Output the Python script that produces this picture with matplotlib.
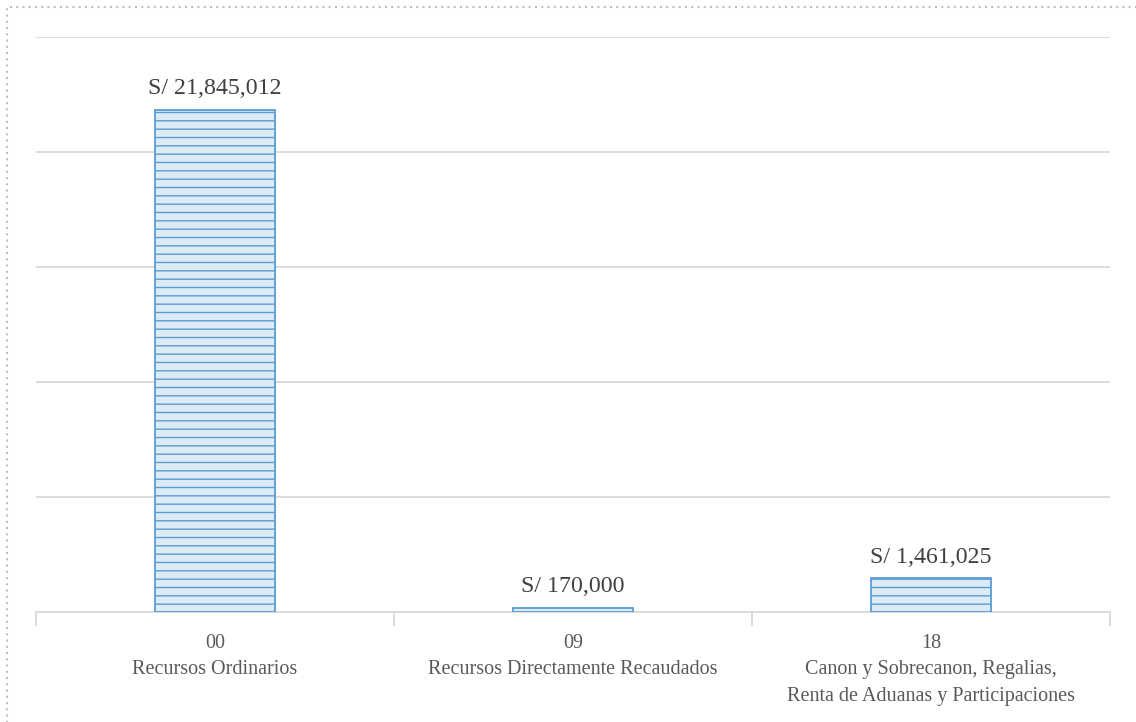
import numpy as np
import matplotlib
matplotlib.use("Agg")
import matplotlib.pyplot as plt
from matplotlib.patches import Rectangle

# presupuesto por fuente de financiamiento (soles)
codes = ["00", "09", "18"]
sources = ["Recursos Ordinarios",
           "Recursos Directamente Recaudados",
           "Canon y Sobrecanon, Regalias,\nRenta de Aduanas y Participaciones"]
amounts = [21845012, 170000, 1461025]

plt.rcParams["font.family"] = ["Liberation Serif", "DejaVu Serif"]
plt.rcParams["hatch.linewidth"] = 1.0

text_color = "#595959"
value_color = "#404040"
grid_color = "#D9D9D9"
bar_edge = "#5B9BD5"
bar_fill = "#DDEBF7"

fig = plt.figure(figsize=(11.36, 7.22), dpi=100)
ax = fig.add_axes([36 / 1136, 110 / 722, 1074 / 1136, 575 / 722])

x = np.arange(len(amounts))
bars = ax.bar(x, amounts, width=0.335, color=bar_fill, edgecolor=bar_edge,
              hatch="--", linewidth=1.3, zorder=3)

for xi, val in zip(x, amounts):
    ax.text(xi, val + 680000, "S/ {:,}".format(val), ha="center",
            va="baseline", fontsize=17.2, color=value_color)

ax.set_xlim(-0.5, len(amounts) - 0.5)
ax.set_ylim(0, 25000000)
ax.set_yticks(np.arange(0, 25000001, 5000000))
ax.yaxis.grid(True, color=grid_color, linewidth=1.3, zorder=0)
ax.tick_params(axis="y", left=False, labelleft=False)

labels = [c + "\n" + s for c, s in zip(codes, sources)]
ax.set_xticks(x)
ax.set_xticklabels(labels, fontsize=14.5, color=text_color, linespacing=1.56,
                   va="top")
ax.tick_params(axis="x", which="major", length=0, pad=15.5)
ax.set_xticks(np.arange(-0.5, len(amounts)), minor=True)
ax.tick_params(axis="x", which="minor", length=10, color=grid_color, width=1.3)

for side in ["top", "left", "right"]:
    ax.spines[side].set_visible(False)
ax.spines["bottom"].set_color(grid_color)
ax.spines["bottom"].set_linewidth(1.3)

# marco punteado del gráfico
fig.patches.append(Rectangle((7 / 1136, -0.1), 1.2, 1.1 - 7 / 722,
                             transform=fig.transFigure, fill=False,
                             edgecolor="#BFBFBF", linestyle=(0, (1, 2)),
                             linewidth=1.5))

fig.savefig("out.png", dpi=100)
